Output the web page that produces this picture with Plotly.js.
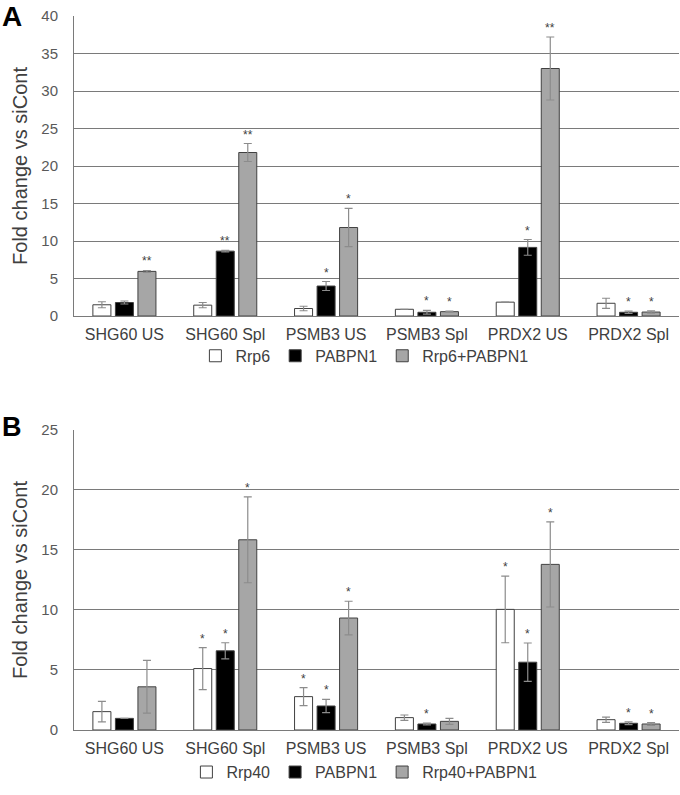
<!DOCTYPE html>
<html>
<head>
<meta charset="utf-8">
<script src="https://cdn.plot.ly/plotly-3.0.1.min.js"></script>
<style>html,body{margin:0;padding:0;background:#fff;}#chart{width:680px;height:795px;}</style>
</head>
<body>
<div id="chart"></div>
<script>
// ---- data ----
var categories = ["SHG60 US", "SHG60 Spl", "PSMB3 US", "PSMB3 Spl", "PRDX2 US", "PRDX2 Spl"];
var yTicksA = [0, 5, 10, 15, 20, 25, 30, 35, 40];
var yTicksB = [0, 5, 10, 15, 20, 25];

// Panel A
var namesA = ["Rrp6", "PABPN1", "Rrp6+PABPN1"];
var rrp6A = [1.5, 1.45, 1.0, 0.9, 1.85, 1.7];
var rrp6AErr = [0.4, 0.35, 0.3, null, null, 0.67];
var rrp6AStars = ["", "", "", "", "", ""];
var pabA = [1.8, 8.65, 4.0, 0.5, 9.15, 0.5];
var pabAErr = [0.2, 0.1, 0.6, 0.25, 1.05, 0.15];
var pabAStars = ["", "**", "*", "*", "*", "*"];
var comboA = [5.95, 21.8, 11.8, 0.58, 33.0, 0.53];
var comboAErr = [0.12, 1.2, 2.55, 0.08, 4.2, 0.15];
var comboAStars = ["**", "**", "*", "*", "**", "*"];

// Panel B
var namesB = ["Rrp40", "PABPN1", "Rrp40+PABPN1"];
var rrp40B = [1.53, 5.12, 2.78, 1.03, 10.05, 0.86];
var rrp40BErr = [0.86, 1.75, 0.75, 0.22, 2.78, 0.22];
var rrp40BStars = ["", "*", "*", "", "*", ""];
var pabB = [0.97, 6.6, 2.0, 0.5, 5.65, 0.56];
var pabBErr = [null, 0.67, 0.55, 0.08, 1.6, 0.12];
var pabBStars = ["", "*", "*", "*", "*", "*"];
var comboB = [3.6, 15.85, 9.33, 0.72, 13.8, 0.5];
var comboBErr = [2.2, 3.58, 1.4, 0.25, 3.55, 0.12];
var comboBStars = ["", "*", "*", "", "*", "*"];

// ---- style ----
var FONT = "Liberation Sans, Arial, sans-serif";
var fills = ["#ffffff", "#000000", "#a6a6a6"];
var outline = "#404040";
var errColor = "#8c8c8c";
var gridColor = "#7a7a7a";
var textColor = "#595959";

var margin = {l: 74, r: 1, t: 16, b: 65};
var W = 680, H = 795;
var bargap = 0.33;
var plotW = W - margin.l - margin.r;
var slot = (plotW / categories.length) * (1 - bargap) / 3;
var offsets = [-slot, 0, slot];

function barTrace(name, vals, errs, idx, xa, ya, legendId) {
  return {
    type: "bar", name: name, x: categories, y: vals,
    xaxis: xa, yaxis: ya, legend: legendId,
    marker: {color: fills[idx], line: {color: outline, width: 1}},
    error_y: {type: "data", array: errs, visible: true, color: errColor, thickness: 1.2, width: 4},
    hoverinfo: "skip"
  };
}

var traces = [
  barTrace(namesA[0], rrp6A, rrp6AErr, 0, "x", "y", "legend"),
  barTrace(namesA[1], pabA, pabAErr, 1, "x", "y", "legend"),
  barTrace(namesA[2], comboA, comboAErr, 2, "x", "y", "legend"),
  barTrace(namesB[0], rrp40B, rrp40BErr, 0, "x2", "y2", "legend2"),
  barTrace(namesB[1], pabB, pabBErr, 1, "x2", "y2", "legend2"),
  barTrace(namesB[2], comboB, comboBErr, 2, "x2", "y2", "legend2")
];

var annotations = [];
function addStars(vals, errs, stars, idx, xref, yref) {
  for (var i = 0; i < categories.length; i++) {
    if (!stars[i]) continue;
    annotations.push({
      x: categories[i], y: vals[i] + (errs[i] || 0), xref: xref, yref: yref,
      text: stars[i], showarrow: false, xshift: offsets[idx], yshift: 9,
      font: {family: FONT, size: 12, color: "#404040"}, yanchor: "middle"
    });
  }
}
addStars(rrp6A, rrp6AErr, rrp6AStars, 0, "x", "y");
addStars(pabA, pabAErr, pabAStars, 1, "x", "y");
addStars(comboA, comboAErr, comboAStars, 2, "x", "y");
addStars(rrp40B, rrp40BErr, rrp40BStars, 0, "x2", "y2");
addStars(pabB, pabBErr, pabBStars, 1, "x2", "y2");
addStars(comboB, comboBErr, comboBStars, 2, "x2", "y2");

annotations.push({text: "<b>A</b>", xref: "paper", yref: "paper", x: -0.1207, y: 1.0224,
  xanchor: "left", yanchor: "top", borderpad: 0, showarrow: false, font: {family: FONT, size: 28, color: "#000"}});
annotations.push({text: "<b>B</b>", xref: "paper", yref: "paper", x: -0.1207, y: 0.4244,
  xanchor: "left", yanchor: "middle", borderpad: 0, showarrow: false, font: {family: FONT, size: 27, color: "#000"}});

function yAxis(domain, ticks, range, anchor) {
  return {
    domain: domain, range: range, anchor: anchor,
    tickvals: ticks, ticktext: ticks.map(String), ticks: "",
    ticklabelstandoff: 12,
    showgrid: true, gridcolor: gridColor, gridwidth: 1,
    showline: true, linecolor: gridColor, linewidth: 1,
    zeroline: false, fixedrange: true,
    tickfont: {family: FONT, size: 15, color: textColor},
    title: {text: "Fold change vs siCont", standoff: 8, font: {family: FONT, size: 20, color: "#404040"}}
  };
}
function xAxis(anchor) {
  return {
    anchor: anchor, type: "category", categoryarray: categories,
    showline: true, linecolor: gridColor, linewidth: 1,
    ticks: "", showgrid: false, fixedrange: true, ticklabelstandoff: 4,
    tickfont: {family: FONT, size: 16, color: "#404040"}
  };
}

var layout = {
  width: W, height: H, margin: margin,
  paper_bgcolor: "#fff", plot_bgcolor: "#fff",
  barmode: "group", bargap: bargap, bargroupgap: 0.2,
  showlegend: true,
  xaxis: xAxis("y"),
  yaxis: yAxis([0.5798, 1], yTicksA, [0, 40], "x"),
  xaxis2: xAxis("y2"),
  yaxis2: yAxis([0, 0.4202], yTicksB, [0, 25], "x2"),
  legend: {orientation: "h", x: 0.48, xanchor: "center", y: 0.524, yanchor: "middle",
    bgcolor: "rgba(0,0,0,0)",
    font: {family: FONT, size: 16, color: "#404040"}, itemwidth: 30, tracegroupgap: 0},
  legend2: {orientation: "h", x: 0.48, xanchor: "center", y: -0.059, yanchor: "middle",
    bgcolor: "rgba(0,0,0,0)",
    font: {family: FONT, size: 16, color: "#404040"}, itemwidth: 30, tracegroupgap: 0},
  annotations: annotations
};

Plotly.newPlot("chart", traces, layout, {staticPlot: true, displayModeBar: false});
</script>
</body>
</html>
